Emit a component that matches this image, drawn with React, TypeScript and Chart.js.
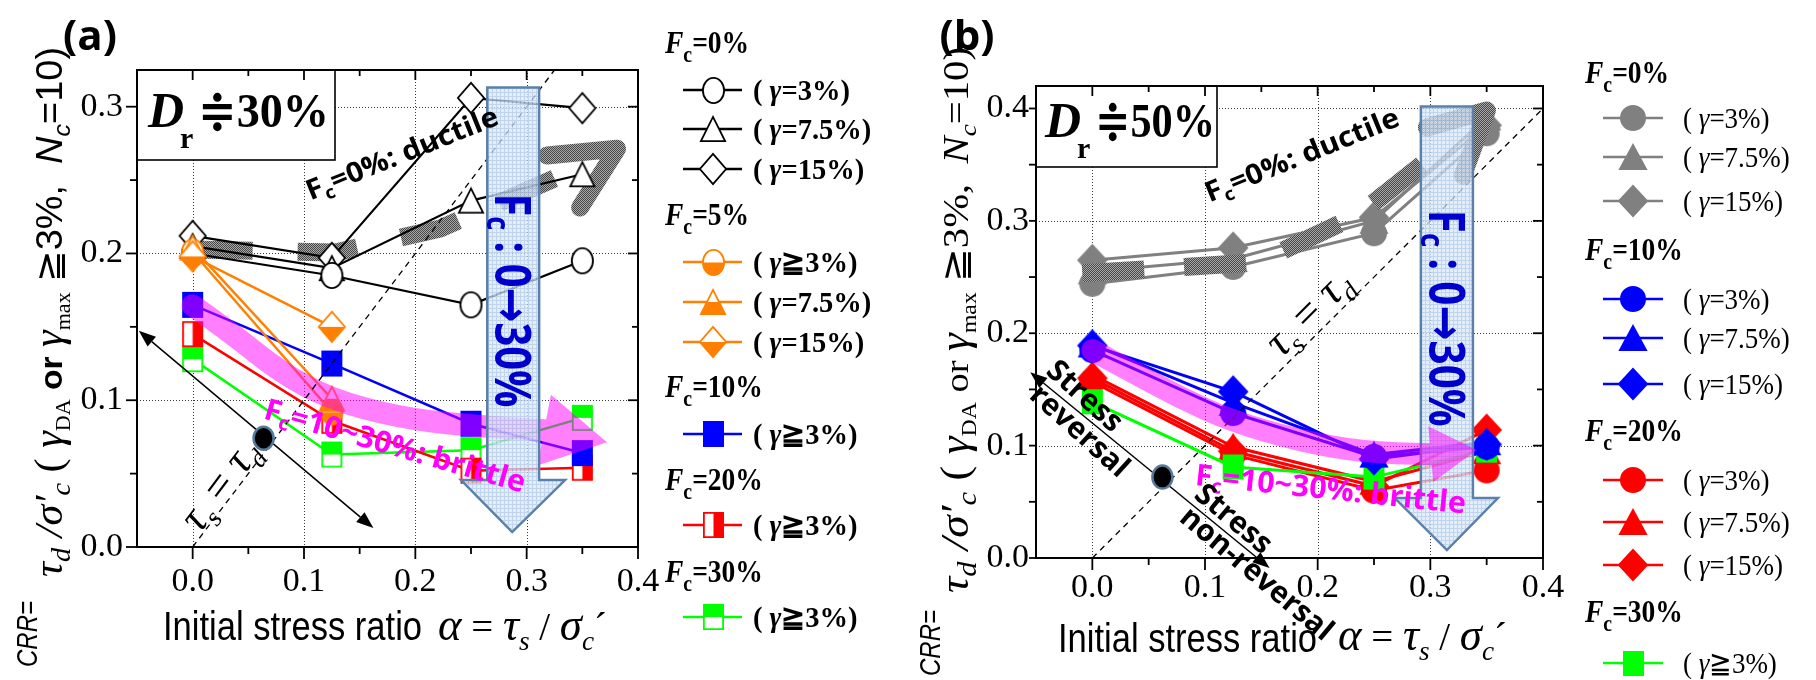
import React, { useEffect, useRef } from 'react';
import { Chart, registerables } from 'chart.js';

Chart.register(...registerables);

// Initial stress ratio α = τs/σc′ of the test groups
const ALPHA = [0, 0.125, 0.25, 0.35];
const ALPHA_FC5 = [0, 0.125];

// (a) Dr ≒ 30 %: cyclic resistance ratio per fines content / strain level
const A_FC0_G3 = [0.2, 0.185, 0.165, 0.195];
const A_FC0_G75 = [0.205, 0.19, 0.236, 0.254];
const A_FC0_G15 = [0.212, 0.197, 0.306, 0.299];
const A_FC5_G3 = [0.201, 0.092];
const A_FC5_G75 = [0.204, 0.101];
const A_FC5_G15 = [0.198, 0.15];
const A_FC10 = [0.165, 0.125, 0.084, 0.064];
const A_FC20 = [0.145, 0.086, 0.052, 0.054];
const A_FC30 = [0.128, 0.063, 0.066, 0.088];

// (b) Dr ≒ 50 %
const B_FC0_G3 = [0.244, 0.259, 0.289, 0.378];
const B_FC0_G75 = [0.255, 0.266, 0.3, 0.392];
const B_FC0_G15 = [0.265, 0.276, 0.303, 0.385];
const B_FC10_G3 = [0.185, 0.129, 0.09, 0.099];
const B_FC10_G75 = [0.19, 0.138, 0.092, 0.103];
const B_FC10_G15 = [0.189, 0.148, 0.088, 0.101];
const B_FC20_G3 = [0.157, 0.092, 0.06, 0.078];
const B_FC20_G75 = [0.163, 0.099, 0.068, 0.095];
const B_FC20_G15 = [0.16, 0.095, 0.064, 0.114];
const B_FC30 = [0.139, 0.081, 0.072, 0.096];

// axes
const X_MIN = -0.05;
const X_MAX = 0.4;
const STEP = 0.1;
const A_Y_MAX = 0.325;
const B_Y_MAX = 0.42;

// legend text
const GROUPS_A = ['0%', '5%', '10%', '20%', '30%'];
const GROUPS_B = ['0%', '10%', '20%', '30%'];
const GAMMA_EQ = ['=3%)', '=7.5%)', '=15%)'];
const GAMMA_GE = '≧3%)';

const SERIF = '"Liberation Serif", "DejaVu Serif", serif';
const SANS = '"Liberation Sans", Arial, sans-serif';
const OPEN = '"Open Sans", "Noto Sans", sans-serif';
const ARROW_FONT = '"DejaVu Sans", sans-serif';

const ORANGE = '#ff8000';
const BLUE = '#0000ff';
const RED = '#ff0000';
const GREEN = '#00ff00';
const GRAY = '#808080';
const MAGENTA = '#ff00ff';

type Shape = 'circle' | 'triangle' | 'diamond' | 'square';
type FillMode = 'open' | 'full' | 'bottom' | 'right' | 'top';

function makeMarker(shape: Shape, fill: FillMode, color: string, w: number, h: number, lw = 1.8): HTMLCanvasElement {
  const pad = 2;
  const c = document.createElement('canvas');
  c.width = Math.ceil(w + pad * 2);
  c.height = Math.ceil(h + pad * 2);
  const g = c.getContext('2d') as CanvasRenderingContext2D;
  g.translate(pad, pad);
  const i = lw / 2;
  const path = () => {
    g.beginPath();
    if (shape === 'circle') g.ellipse(w / 2, h / 2, w / 2 - i, h / 2 - i, 0, 0, Math.PI * 2);
    else if (shape === 'triangle') {
      g.moveTo(w / 2, i); g.lineTo(w - i, h - i); g.lineTo(i, h - i); g.closePath();
    } else if (shape === 'diamond') {
      g.moveTo(w / 2, i); g.lineTo(w - i, h / 2); g.lineTo(w / 2, h - i); g.lineTo(i, h / 2); g.closePath();
    } else g.rect(i, i, w - lw, h - lw);
  };
  path();
  g.fillStyle = fill === 'full' ? color : '#ffffff';
  g.fill();
  if (fill === 'bottom' || fill === 'right' || fill === 'top') {
    g.save();
    path();
    g.clip();
    g.fillStyle = color;
    if (fill === 'bottom') g.fillRect(0, h / 2, w, h / 2);
    if (fill === 'top') g.fillRect(0, 0, w, h / 2);
    if (fill === 'right') g.fillRect(w / 2, 0, w / 2, h);
    g.restore();
  }
  path();
  g.strokeStyle = color;
  g.lineWidth = lw;
  g.stroke();
  return c;
}

interface Seg { t: string; f: string; dy?: number; c?: string }
interface RichOpt { angle?: number; align?: 'left' | 'center'; fit?: number; sx?: number; color?: string }

function segWidth(ctx: CanvasRenderingContext2D, segs: Seg[]) {
  let w = 0;
  for (const s of segs) { ctx.font = s.f; w += ctx.measureText(s.t).width; }
  return w;
}

function drawRich(ctx: CanvasRenderingContext2D, segs: Seg[], x: number, y: number, opt: RichOpt = {}) {
  ctx.save();
  ctx.translate(x, y);
  if (opt.angle) ctx.rotate((opt.angle * Math.PI) / 180);
  const w = segWidth(ctx, segs);
  const sx = opt.fit ? opt.fit / w : opt.sx ?? 1;
  ctx.scale(sx, 1);
  let cx = opt.align === 'center' ? -w / 2 : 0;
  ctx.textBaseline = 'alphabetic';
  ctx.textAlign = 'left';
  for (const s of segs) {
    ctx.font = s.f;
    ctx.fillStyle = s.c ?? opt.color ?? '#000';
    ctx.fillText(s.t, cx, s.dy ?? 0);
    cx += ctx.measureText(s.t).width;
  }
  ctx.restore();
}

function P(chart: any, a: number, v: number): [number, number] {
  return [chart.scales.x.getPixelForValue(a), chart.scales.y.getPixelForValue(v)];
}

function hatchPattern(ctx: CanvasRenderingContext2D) {
  const c = document.createElement('canvas');
  c.width = 4; c.height = 4;
  const g = c.getContext('2d') as CanvasRenderingContext2D;
  g.fillStyle = '#a8a8a8';
  g.fillRect(0, 0, 4, 4);
  g.fillStyle = '#484848';
  for (let y = 0; y < 4; y++) for (let x = 0; x < 4; x++) if ((x + y) % 2 === 0) g.fillRect(x, y, 1, 1);
  return ctx.createPattern(c, 'repeat') as CanvasPattern;
}

function boxPattern(ctx: CanvasRenderingContext2D) {
  const c = document.createElement('canvas');
  c.width = 4; c.height = 4;
  const g = c.getContext('2d') as CanvasRenderingContext2D;
  g.fillStyle = '#dde9f8';
  g.fillRect(0, 0, 4, 4);
  g.fillStyle = '#b0c8e8';
  g.fillRect(0, 0, 4, 1);
  g.fillRect(0, 0, 1, 4);
  return ctx.createPattern(c, 'repeat') as CanvasPattern;
}

function headPoints(base: [number, number], tip: [number, number], half: number) {
  const dx = tip[0] - base[0];
  const dy = tip[1] - base[1];
  const d = Math.hypot(dx, dy);
  const ux = dx / d, uy = dy / d;
  return [[base[0] - uy * half, base[1] + ux * half], tip, [base[0] + uy * half, base[1] - ux * half]];
}

// thick dashed, hatched trend arrow with an open chevron head
function drawHatchedArrow(chart: any, pts: number[][], tip: number[], arms: number[][], width: number, dash: number[]) {
  const ctx: CanvasRenderingContext2D = chart.ctx;
  const px = pts.map((p) => P(chart, p[0], p[1]));
  const t = P(chart, tip[0], tip[1]);
  const a1 = P(chart, arms[0][0], arms[0][1]);
  const a2 = P(chart, arms[1][0], arms[1][1]);
  const pat = hatchPattern(ctx);
  ctx.save();
  ctx.strokeStyle = pat;
  ctx.lineWidth = width;
  ctx.setLineDash(dash);
  ctx.lineJoin = 'round';
  ctx.beginPath();
  px.forEach((p, i) => (i ? ctx.lineTo(p[0], p[1]) : ctx.moveTo(p[0], p[1])));
  ctx.stroke();
  ctx.setLineDash([]);
  ctx.lineCap = 'round';
  ctx.lineWidth = width;
  ctx.beginPath();
  ctx.moveTo(a1[0], a1[1]);
  ctx.lineTo(t[0], t[1]);
  ctx.lineTo(a2[0], a2[1]);
  ctx.stroke();
  ctx.restore();
}

// translucent broad trend arrow
function drawBand(chart: any, pts: number[][], tip: number[], width: number, half: number, color: string, alpha: number) {
  const off = document.createElement('canvas');
  off.width = chart.canvas.width;
  off.height = chart.canvas.height;
  const g = off.getContext('2d') as CanvasRenderingContext2D;
  const px = pts.map((p) => P(chart, p[0], p[1]));
  const t = P(chart, tip[0], tip[1]);
  g.strokeStyle = color;
  g.fillStyle = color;
  g.lineWidth = width;
  g.lineJoin = 'round';
  g.lineCap = 'round';
  g.beginPath();
  g.moveTo(px[0][0], px[0][1]);
  for (let i = 1; i < px.length - 1; i++) {
    const mx = (px[i][0] + px[i + 1][0]) / 2;
    const my = (px[i][1] + px[i + 1][1]) / 2;
    g.quadraticCurveTo(px[i][0], px[i][1], mx, my);
  }
  g.lineTo(px[px.length - 1][0], px[px.length - 1][1]);
  g.stroke();
  const h = headPoints(px[px.length - 1], t, half);
  g.beginPath();
  g.moveTo(h[0][0], h[0][1]); g.lineTo(h[1][0], h[1][1]); g.lineTo(h[2][0], h[2][1]);
  g.closePath();
  g.fill();
  const ctx: CanvasRenderingContext2D = chart.ctx;
  ctx.save();
  ctx.globalAlpha = alpha;
  ctx.drawImage(off, 0, 0);
  ctx.restore();
}

interface Block { x1: number; x2: number; top: number; neck: number; hx1: number; hx2: number; tipX: number; tipY: number }

function drawBlockArrow(chart: any, s: Block) {
  const ctx: CanvasRenderingContext2D = chart.ctx;
  const X = (a: number) => chart.scales.x.getPixelForValue(a);
  const Y = (v: number) => chart.scales.y.getPixelForValue(v);
  ctx.save();
  ctx.beginPath();
  ctx.moveTo(X(s.x1), Y(s.top));
  ctx.lineTo(X(s.x2), Y(s.top));
  ctx.lineTo(X(s.x2), Y(s.neck));
  ctx.lineTo(X(s.hx2), Y(s.neck));
  ctx.lineTo(X(s.tipX), Y(s.tipY));
  ctx.lineTo(X(s.hx1), Y(s.neck));
  ctx.lineTo(X(s.x1), Y(s.neck));
  ctx.closePath();
  ctx.globalAlpha = 0.78;
  ctx.fillStyle = boxPattern(ctx);
  ctx.fill();
  ctx.globalAlpha = 1;
  ctx.strokeStyle = '#5b81ab';
  ctx.lineWidth = 2.5;
  ctx.stroke();
  ctx.restore();
}

function drawDoubleArrow(chart: any, a: number[], b: number[]) {
  const ctx: CanvasRenderingContext2D = chart.ctx;
  const p = P(chart, a[0], a[1]);
  const q = P(chart, b[0], b[1]);
  const dx = q[0] - p[0], dy = q[1] - p[1];
  const d = Math.hypot(dx, dy);
  const ux = dx / d, uy = dy / d;
  const L = 17, H = 6.5;
  ctx.save();
  ctx.strokeStyle = '#000';
  ctx.fillStyle = '#000';
  ctx.lineWidth = 1.5;
  ctx.beginPath();
  ctx.moveTo(p[0] + ux * L, p[1] + uy * L);
  ctx.lineTo(q[0] - ux * L, q[1] - uy * L);
  ctx.stroke();
  const head = (t: number[], sx: number, sy: number) => {
    const bx = t[0] - sx * L, by = t[1] - sy * L;
    ctx.beginPath();
    ctx.moveTo(t[0], t[1]);
    ctx.lineTo(bx - sy * H, by + sx * H);
    ctx.lineTo(bx + sy * H, by - sx * H);
    ctx.closePath();
    ctx.fill();
  };
  head(q, ux, uy);
  head(p, -ux, -uy);
  ctx.restore();
}

function drawDot(chart: any, a: number[]) {
  const ctx: CanvasRenderingContext2D = chart.ctx;
  const p = P(chart, a[0], a[1]);
  ctx.save();
  ctx.beginPath();
  ctx.ellipse(p[0], p[1], 10, 11.5, 0, 0, Math.PI * 2);
  ctx.fillStyle = '#000';
  ctx.fill();
  ctx.strokeStyle = '#56799b';
  ctx.lineWidth = 2.5;
  ctx.stroke();
  ctx.restore();
}

// τs = τd reference line
function drawTauLine(chart: any, yMax: number) {
  const ctx: CanvasRenderingContext2D = chart.ctx;
  const m = Math.min(X_MAX, yMax);
  const p = P(chart, 0, 0);
  const q = P(chart, m, m);
  ctx.save();
  ctx.strokeStyle = '#000';
  ctx.lineWidth = 1.3;
  ctx.setLineDash([6, 5]);
  ctx.beginPath();
  ctx.moveTo(p[0], p[1]);
  ctx.lineTo(q[0], q[1]);
  ctx.stroke();
  ctx.restore();
}

function drawGrid(chart: any) {
  const ctx: CanvasRenderingContext2D = chart.ctx;
  const { left, right, top, bottom } = chart.chartArea;
  ctx.save();
  ctx.strokeStyle = '#3c3c3c';
  ctx.lineWidth = 1;
  ctx.setLineDash([1, 2]);
  for (const t of chart.scales.x.ticks) {
    const x = Math.round(chart.scales.x.getPixelForValue(t.value)) + 0.5;
    ctx.beginPath(); ctx.moveTo(x, top); ctx.lineTo(x, bottom); ctx.stroke();
  }
  for (const t of chart.scales.y.ticks) {
    const y = Math.round(chart.scales.y.getPixelForValue(t.value)) + 0.5;
    ctx.beginPath(); ctx.moveTo(left, y); ctx.lineTo(right, y); ctx.stroke();
  }
  ctx.restore();
}

function drawFrame(chart: any, outMajor: number) {
  const ctx: CanvasRenderingContext2D = chart.ctx;
  const { left, right, top, bottom } = chart.chartArea;
  const xs = chart.scales.x, ys = chart.scales.y;
  const half = STEP / 2;
  ctx.save();
  ctx.strokeStyle = '#000';
  ctx.lineWidth = 1.8;
  const seg = (x1: number, y1: number, x2: number, y2: number) => {
    ctx.beginPath(); ctx.moveTo(x1, y1); ctx.lineTo(x2, y2); ctx.stroke();
  };
  const xMaj = xs.ticks.map((t: any) => t.value);
  const xMin = xMaj.map((v: number) => v + half).filter((v: number) => v < xs.max - 1e-9);
  const yMaj = ys.ticks.map((t: any) => t.value);
  const yMin = yMaj.map((v: number) => v + half).filter((v: number) => v < ys.max - 1e-9);
  for (const v of xMaj) { const x = xs.getPixelForValue(v); seg(x, bottom, x, bottom + 12); seg(x, top, x, top + 10); }
  for (const v of xMin) { const x = xs.getPixelForValue(v); seg(x, bottom, x, bottom + 7); seg(x, top, x, top + 6); }
  for (const v of yMaj) { const y = ys.getPixelForValue(v); seg(left - outMajor, y, left, y); seg(right - 10, y, right, y); }
  for (const v of yMin) { const y = ys.getPixelForValue(v); seg(left - 7, y, left, y); seg(right - 6, y, right, y); }
  ctx.lineWidth = 2;
  ctx.strokeRect(left, top, right - left, bottom - top);
  ctx.restore();
}

function drawTickLabels(chart: any, dy: number, dx: number) {
  const ctx: CanvasRenderingContext2D = chart.ctx;
  const { left, bottom } = chart.chartArea;
  ctx.save();
  ctx.font = `34px ${SERIF}`;
  ctx.fillStyle = '#000';
  ctx.textBaseline = 'middle';
  ctx.textAlign = 'center';
  for (const t of chart.scales.x.ticks) ctx.fillText(t.value.toFixed(1), chart.scales.x.getPixelForValue(t.value), bottom + dy);
  ctx.textAlign = 'right';
  for (const t of chart.scales.y.ticks) ctx.fillText(t.value.toFixed(1), left - dx, chart.scales.y.getPixelForValue(t.value));
  ctx.restore();
}

function drawDrBox(chart: any, w: number, h: number, value: string, dX: number, dY: number, textW: number) {
  const ctx: CanvasRenderingContext2D = chart.ctx;
  const { left, top } = chart.chartArea;
  ctx.save();
  ctx.fillStyle = '#fff';
  ctx.fillRect(left, top, w, h);
  ctx.strokeStyle = '#000';
  ctx.lineWidth = 1.6;
  ctx.strokeRect(left, top, w, h);
  ctx.restore();
  drawRich(ctx, [{ t: 'D', f: `italic bold 50px ${SERIF}` }], left + dX, top + dY);
  drawRich(ctx, [{ t: 'r', f: `bold 30px ${SERIF}` }], left + dX + 32, top + dY + 21);
  drawRich(ctx, [{ t: '≑' + value, f: `bold 48px ${SERIF}` }], left + dX + 50, top + dY, { fit: textW });
}

const fcSegs = (size: number, rest: string, sub: number): Seg[] => [
  { t: 'F', f: `bold ${size}px ${OPEN}` },
  { t: 'c', f: `bold ${Math.round(size * 0.65)}px ${OPEN}`, dy: sub },
  { t: rest, f: `bold ${size}px ${OPEN}` },
];

// "Fc : 0→30%" with a heavy arrow glyph
const fcShiftSegs = (size: number): Seg[] => [
  { t: 'F', f: `bold ${size}px ${OPEN}` },
  { t: 'c', f: `bold ${Math.round(size * 0.65)}px ${OPEN}`, dy: 8 },
  { t: ' : 0', f: `bold ${size}px ${OPEN}` },
  { t: '→', f: `bold ${size}px ${ARROW_FONT}` },
  { t: '30%', f: `bold ${size}px ${OPEN}` },
];

const tauSegs = (size: number): Seg[] => [
  { t: 'τ', f: `italic ${size}px ${SERIF}` },
  { t: 's', f: `italic ${Math.round(size * 0.62)}px ${SERIF}`, dy: size * 0.22 },
  { t: ' = ', f: `${size}px ${SERIF}` },
  { t: 'τ', f: `italic ${size}px ${SERIF}` },
  { t: 'd', f: `italic ${Math.round(size * 0.62)}px ${SERIF}`, dy: size * 0.22 },
];

function yTitleSegs(sansParts: boolean): Seg[] {
  const T = 40;
  const alt = sansParts ? SANS : SERIF;
  return [
    { t: 'τ', f: `italic ${T}px ${SERIF}` },
    { t: 'd', f: `italic 27px ${SERIF}`, dy: 8 },
    { t: ' /', f: `italic ${T}px ${SERIF}` },
    { t: 'σ′', f: `italic ${T}px ${SERIF}` },
    { t: 'c', f: `italic 27px ${SERIF}`, dy: 8 },
    { t: ' ( ', f: `${T}px ${SERIF}` },
    { t: 'γ', f: `italic ${T}px ${SERIF}` },
    { t: 'DA', f: `21px ${SERIF}`, dy: 8 },
    { t: ' or ', f: sansParts ? `bold 32px ${SANS}` : `34px ${SERIF}` },
    { t: 'γ', f: `italic ${T}px ${SERIF}` },
    { t: 'max', f: `21px ${SERIF}`, dy: 8 },
    { t: ' ≧3%,  ', f: `36px ${alt}` },
    { t: 'N', f: `italic 36px ${alt}` },
    { t: 'c', f: `italic 24px ${alt}`, dy: 8 },
    { t: '=10)', f: `36px ${alt}` },
  ];
}

function xTitleSegs(): Seg[] {
  return [
    { t: 'α', f: `italic 46px ${SERIF}` },
    { t: ' = ', f: `40px ${SERIF}` },
    { t: 'τ', f: `italic 46px ${SERIF}` },
    { t: 's', f: `italic 28px ${SERIF}`, dy: 10 },
    { t: ' / ', f: `40px ${SERIF}` },
    { t: 'σ', f: `italic 46px ${SERIF}` },
    { t: 'c', f: `italic 28px ${SERIF}`, dy: 10 },
    { t: '´', f: `40px ${SERIF}` },
  ];
}

function drawAxisTitles(ctx: CanvasRenderingContext2D, o: any) {
  drawRich(ctx, [{ t: 'Initial stress ratio', f: `40px ${SANS}` }], o.xTitleX, o.xTitleY, { fit: 259 });
  drawRich(ctx, xTitleSegs(), o.xMathX, o.xMathY, { fit: 169 });
  drawRich(ctx, [{ t: 'CRR=', f: `italic 30px ${SANS}` }], o.crrX, o.crrY, { angle: -90, fit: 66 });
  drawRich(ctx, yTitleSegs(o.sans), o.yTitleX, o.yTitleY, { angle: -90, fit: o.yTitleLen });
}

interface LegendRow { head?: string; mk?: HTMLCanvasElement; col?: string; label?: string; y: number }

function drawLegend(ctx: CanvasRenderingContext2D, rows: LegendRow[], o: any) {
  for (const r of rows) {
    if (r.head) {
      drawRich(ctx, [
        { t: 'F', f: `italic bold 32px ${SERIF}` },
        { t: 'c', f: `bold 23px ${SERIF}`, dy: 9 },
        { t: '=' + r.head, f: `bold 32px ${SERIF}` },
      ], o.headX, r.y + 11, { sx: 0.86 });
      continue;
    }
    ctx.save();
    ctx.strokeStyle = r.col as string;
    ctx.lineWidth = 2.5;
    ctx.beginPath();
    ctx.moveTo(o.lx1, r.y);
    ctx.lineTo(o.lx2, r.y);
    ctx.stroke();
    const m = r.mk as HTMLCanvasElement;
    ctx.drawImage(m, Math.round(o.mx - m.width / 2), Math.round(r.y - m.height / 2));
    ctx.restore();
    const w = o.bold ? 'bold ' : '';
    drawRich(ctx, [
      { t: '( ', f: `${w}30px ${SERIF}` },
      { t: 'γ', f: `italic ${w}30px ${SERIF}` },
      { t: r.label as string, f: `${w}30px ${SERIF}` },
    ], o.tx, r.y + 10, { sx: o.sx });
  }
}

function series(xs: number[], ys: number[], color: string, marker: HTMLCanvasElement, width: number) {
  return {
    data: xs.map((x, i) => ({ x, y: ys[i] })),
    borderColor: color,
    backgroundColor: color,
    borderWidth: width,
    pointStyle: marker,
    pointRadius: 12,
    pointHoverRadius: 12,
    tension: 0,
    fill: false,
  };
}

function buildConfig(datasets: any[], padding: any, yMax: number, hooks: any) {
  return {
    type: 'line',
    data: { datasets },
    options: {
      responsive: false,
      animation: false,
      devicePixelRatio: 1,
      events: [],
      layout: { padding },
      plugins: { legend: { display: false }, tooltip: { enabled: false } },
      scales: {
        x: {
          type: 'linear', min: X_MIN, max: X_MAX,
          ticks: { stepSize: STEP, includeBounds: false, display: false },
          grid: { display: false }, border: { display: false },
          afterFit: (s: any) => { s.height = 0; },
        },
        y: {
          type: 'linear', min: 0, max: yMax,
          ticks: { stepSize: STEP, includeBounds: false, display: false },
          grid: { display: false }, border: { display: false },
          afterFit: (s: any) => { s.width = 0; },
        },
      },
    },
    plugins: [{ id: 'crrArt', ...hooks }],
  } as any;
}

function panelA(canvas: HTMLCanvasElement) {
  const m = {
    c0: makeMarker('circle', 'open', '#000', 23, 27),
    t0: makeMarker('triangle', 'open', '#000', 26, 26),
    d0: makeMarker('diamond', 'open', '#000', 28, 32),
    c5: makeMarker('circle', 'bottom', ORANGE, 23, 27),
    t5: makeMarker('triangle', 'bottom', ORANGE, 26, 26),
    d5: makeMarker('diamond', 'bottom', ORANGE, 28, 32),
    s10: makeMarker('square', 'full', BLUE, 21, 26),
    s20: makeMarker('square', 'right', RED, 21, 26),
    s30: makeMarker('square', 'top', GREEN, 21, 26),
  };
  const datasets = [
    series(ALPHA_FC5, A_FC5_G15, ORANGE, m.d5, 2.5),
    series(ALPHA_FC5, A_FC5_G75, ORANGE, m.t5, 2.5),
    series(ALPHA_FC5, A_FC5_G3, ORANGE, m.c5, 2.5),
    series(ALPHA, A_FC10, BLUE, m.s10, 2.5),
    series(ALPHA, A_FC20, RED, m.s20, 2.5),
    series(ALPHA, A_FC30, GREEN, m.s30, 2.5),
    series(ALPHA, A_FC0_G3, '#000', m.c0, 2.2),
    series(ALPHA, A_FC0_G75, '#000', m.t0, 2.2),
    series(ALPHA, A_FC0_G15, '#000', m.d0, 2.2),
  ];
  const legendRows: LegendRow[] = [
    { head: GROUPS_A[0], y: 42 },
    { mk: m.c0, col: '#000', label: GAMMA_EQ[0], y: 90 },
    { mk: m.t0, col: '#000', label: GAMMA_EQ[1], y: 129 },
    { mk: m.d0, col: '#000', label: GAMMA_EQ[2], y: 169 },
    { head: GROUPS_A[1], y: 214 },
    { mk: m.c5, col: ORANGE, label: GAMMA_GE, y: 262 },
    { mk: m.t5, col: ORANGE, label: GAMMA_EQ[1], y: 302 },
    { mk: m.d5, col: ORANGE, label: GAMMA_EQ[2], y: 342 },
    { head: GROUPS_A[2], y: 386 },
    { mk: m.s10, col: BLUE, label: GAMMA_GE, y: 434 },
    { head: GROUPS_A[3], y: 479 },
    { mk: m.s20, col: RED, label: GAMMA_GE, y: 525 },
    { head: GROUPS_A[4], y: 571 },
    { mk: m.s30, col: GREEN, label: GAMMA_GE, y: 617 },
  ];
  const hooks = {
    beforeDatasetsDraw: (c: any) => {
      drawGrid(c);
      drawHatchedArrow(c, [[0, 0.2027], [0.1283, 0.2007], [0.2224, 0.217], [0.335, 0.2545]], [0.3812, 0.2714], [[0.3184, 0.2667], [0.348, 0.2313]], 18, [60, 45]);
    },
    afterDatasetsDraw: (c: any) => {
      const ctx = c.ctx;
      drawBand(c, [[0, 0.1646], [0.0341, 0.1463], [0.0789, 0.119], [0.1238, 0.1007], [0.1839, 0.0884], [0.243, 0.083], [0.3157, 0.0796]], [0.3722, 0.0714], 22, 36, MAGENTA, 0.5);
      drawTauLine(c, A_Y_MAX);
      drawDoubleArrow(c, [-0.0484, 0.1474], [0.1623, 0.0129]);
      drawDot(c, [0.0637, 0.0741]);
      drawBlockArrow(c, { x1: 0.2646, x2: 0.3112, top: 0.313, neck: 0.0456, hx1: 0.241, hx2: 0.3345, tipX: 0.287, tipY: 0.0102 });
      let p = P(c, 0.2717, 0.168);
      drawRich(ctx, fcShiftSegs(50), p[0], p[1], { angle: 90, align: 'center', fit: 214, color: '#0000cc' });
      p = P(c, 0.1058, 0.2361);
      drawRich(ctx, fcSegs(28, '=0%: ductile', 6), p[0], p[1], { angle: -22, fit: 205 });
      p = P(c, 0.0628, 0.0878);
      drawRich(ctx, fcSegs(30, '=10~30%: brittle', 6), p[0], p[1], { angle: 16, fit: 270, color: MAGENTA });
      p = P(c, 0.0341, 0.0367);
      drawRich(ctx, tauSegs(44), p[0], p[1], { angle: -53, align: 'center' });
      drawDrBox(c, 198, 90, '30%', 11, 57, 131);
      drawFrame(c, 11);
    },
    afterDraw: (c: any) => {
      const ctx = c.ctx;
      drawTickLabels(c, 35, 14);
      drawAxisTitles(ctx, { xTitleX: 163, xTitleY: 640, xMathX: 438, xMathY: 640, crrX: 37, crrY: 667, yTitleX: 62, yTitleY: 577, yTitleLen: 530, sans: true });
      drawLegend(ctx, legendRows, { headX: 665, lx1: 683, lx2: 742, mx: 713, tx: 753, bold: true, sx: 0.95 });
      ctx.save();
      ctx.font = `bold 42px ${OPEN}`;
      ctx.fillStyle = '#000';
      ctx.textAlign = 'center';
      ctx.textBaseline = 'middle';
      ctx.fillText('(a)', 90, 38);
      ctx.restore();
    },
  };
  return new Chart(canvas, buildConfig(datasets, { left: 137, top: 70, right: 267, bottom: 133 }, A_Y_MAX, hooks));
}

function panelB(canvas: HTMLCanvasElement) {
  const OX = 905;
  const mk = (s: Shape, col: string) => {
    if (s === 'circle') return makeMarker('circle', 'full', col, 26, 26);
    if (s === 'triangle') return makeMarker('triangle', 'full', col, 28, 26);
    if (s === 'diamond') return makeMarker('diamond', 'full', col, 30, 32);
    return makeMarker('square', 'full', col, 21, 25);
  };
  const m = {
    c0: mk('circle', GRAY), t0: mk('triangle', GRAY), d0: mk('diamond', GRAY),
    c10: mk('circle', BLUE), t10: mk('triangle', BLUE), d10: mk('diamond', BLUE),
    c20: mk('circle', RED), t20: mk('triangle', RED), d20: mk('diamond', RED),
    s30: mk('square', GREEN),
  };
  const datasets = [
    series(ALPHA, B_FC10_G15, BLUE, m.d10, 3),
    series(ALPHA, B_FC10_G75, BLUE, m.t10, 3),
    series(ALPHA, B_FC10_G3, BLUE, m.c10, 3),
    series(ALPHA, B_FC30, GREEN, m.s30, 3),
    series(ALPHA, B_FC20_G75, RED, m.t20, 3),
    series(ALPHA, B_FC20_G15, RED, m.d20, 3),
    series(ALPHA, B_FC20_G3, RED, m.c20, 3),
    series(ALPHA, B_FC0_G15, GRAY, m.d0, 3),
    series(ALPHA, B_FC0_G75, GRAY, m.t0, 3),
    series(ALPHA, B_FC0_G3, GRAY, m.c0, 3),
  ];
  const legendRows: LegendRow[] = [
    { head: GROUPS_B[0], y: 72 },
    { mk: m.c0, col: GRAY, label: GAMMA_EQ[0], y: 118 },
    { mk: m.t0, col: GRAY, label: GAMMA_EQ[1], y: 157 },
    { mk: m.d0, col: GRAY, label: GAMMA_EQ[2], y: 201 },
    { head: GROUPS_B[1], y: 249 },
    { mk: m.c10, col: BLUE, label: GAMMA_EQ[0], y: 299 },
    { mk: m.t10, col: BLUE, label: GAMMA_EQ[1], y: 338 },
    { mk: m.d10, col: BLUE, label: GAMMA_EQ[2], y: 384 },
    { head: GROUPS_B[2], y: 430 },
    { mk: m.c20, col: RED, label: GAMMA_EQ[0], y: 480 },
    { mk: m.t20, col: RED, label: GAMMA_EQ[1], y: 522 },
    { mk: m.d20, col: RED, label: GAMMA_EQ[2], y: 565 },
    { head: GROUPS_B[3], y: 611 },
    { mk: m.s30, col: GREEN, label: GAMMA_GE, y: 663 },
  ];
  const hooks = {
    beforeDatasetsDraw: (c: any) => drawGrid(c),
    afterDatasetsDraw: (c: any) => {
      const ctx = c.ctx;
      drawHatchedArrow(c, [[-0.0089, 0.2533], [0.1467, 0.2631], [0.2356, 0.3049], [0.32, 0.372]], [0.3502, 0.3982], [[0.2969, 0.3831], [0.3289, 0.3404]], 18, [62, 40]);
      drawTauLine(c, B_Y_MAX);
      drawDoubleArrow(c, [-0.0551, 0.1653], [0.1573, -0.0089]);
      drawDot(c, [0.0622, 0.072]);
      drawBlockArrow(c, { x1: 0.2916, x2: 0.3378, top: 0.4018, neck: 0.0533, hx1: 0.2684, hx2: 0.36, tipX: 0.3147, tipY: 0.0071 });
      drawBand(c, [[0, 0.1849], [0.0329, 0.1671], [0.0773, 0.1431], [0.1218, 0.1227], [0.1813, 0.1049], [0.24, 0.0942], [0.3004, 0.0924]], [0.3413, 0.096], 22, 28, MAGENTA, 0.5);
      let p = P(c, 0.2987, 0.2133);
      drawRich(ctx, fcShiftSegs(50), p[0], p[1], { angle: 90, align: 'center', fit: 217, color: '#0000cc' });
      p = P(c, 0.104, 0.3164);
      drawRich(ctx, fcSegs(28, '=0%: ductile', 6), p[0], p[1], { angle: -22, fit: 207 });
      p = P(c, 0.0907, 0.0649);
      drawRich(ctx, fcSegs(30, '=10~30%: brittle', 6), p[0], p[1], { angle: 6, fit: 272, color: MAGENTA });
      p = P(c, 0.2, 0.2098);
      drawRich(ctx, tauSegs(44), p[0], p[1], { angle: -45, align: 'center' });
      const word = (t: string, a: number, v: number, ang: number) => {
        const q = P(c, a, v);
        drawRich(ctx, [{ t, f: `bold 30px ${OPEN}` }], q[0], q[1], { angle: ang, align: 'center' });
      };
      word('Stress', -0.0124, 0.1378, 42);
      word('reversal', -0.0169, 0.1067, 42);
      word('Stress', 0.12, 0.0284, 40);
      word('non-reversal', 0.1404, -0.0204, 40);
      drawDrBox(c, 181, 81, '50%', 9, 51, 120);
      drawFrame(c, 7);
    },
    afterDraw: (c: any) => {
      const ctx = c.ctx;
      drawTickLabels(c, 30, 7);
      drawAxisTitles(ctx, { xTitleX: 1058 - OX, xTitleY: 652, xMathX: 1338 - OX, xMathY: 650, crrX: 940 - OX, crrY: 676, yTitleX: 968 - OX, yTitleY: 593, yTitleLen: 546, sans: false });
      drawLegend(ctx, legendRows, { headX: 1585 - OX, lx1: 1603 - OX, lx2: 1663 - OX, mx: 1633 - OX, tx: 1683 - OX, bold: false, sx: 0.9 });
      ctx.save();
      ctx.font = `bold 42px ${OPEN}`;
      ctx.fillStyle = '#000';
      ctx.textAlign = 'center';
      ctx.textBaseline = 'middle';
      ctx.fillText('(b)', 967 - OX, 38);
      ctx.restore();
    },
  };
  return new Chart(canvas, buildConfig(datasets, { left: 131, top: 86, right: 273, bottom: 122 }, B_Y_MAX, hooks));
}

export default function App() {
  const refA = useRef<HTMLCanvasElement>(null);
  const refB = useRef<HTMLCanvasElement>(null);
  useEffect(() => {
    const a = panelA(refA.current as HTMLCanvasElement);
    const b = panelB(refB.current as HTMLCanvasElement);
    return () => {
      a.destroy();
      b.destroy();
    };
  }, []);
  return (
    <div style={{ position: 'absolute', left: 0, top: 0, width: 1816, height: 680, background: '#fff', overflow: 'hidden' }}>
      <canvas ref={refA} width={905} height={680} style={{ position: 'absolute', left: 0, top: 0, width: 905, height: 680 }} />
      <canvas ref={refB} width={911} height={680} style={{ position: 'absolute', left: 905, top: 0, width: 911, height: 680 }} />
    </div>
  );
}
